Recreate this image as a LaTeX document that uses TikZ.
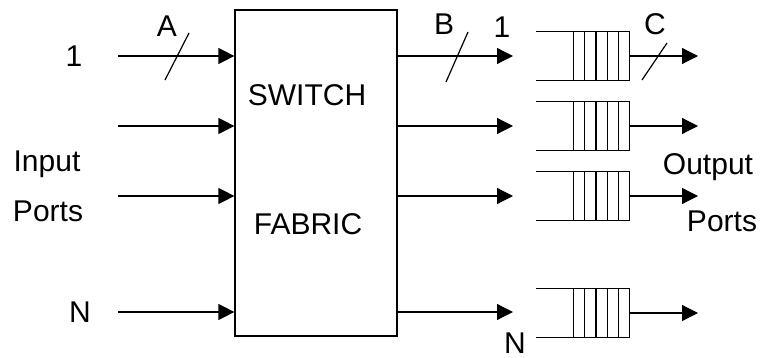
\documentclass[tikz,border=0pt]{standalone}
\usepackage{fontspec}
\setmainfont{Liberation Sans}
\usetikzlibrary{arrows.meta}
\begin{document}
\begin{tikzpicture}[x=1pt,y=-1pt,
  line width=1.2pt,
  conn/.style={-{Triangle[length=16pt,width=16pt]}},
  lbl/.style={font=\fontsize{30}{36}\selectfont, anchor=base, inner sep=0pt},
  fabricbox/.style={draw, minimum width=162pt, minimum height=326pt, inner sep=0pt},
  queuebox/.style={minimum width=92pt, minimum height=48pt, inner sep=0pt}]
\useasboundingbox (0,0) rectangle (763,358);
% switch fabric
\node[fabricbox] (fab) at (316,173) {};
\node[lbl] (sw) at (307,106) {SWITCH};
\node[lbl] (fb) at (308,235) {FABRIC};
% input side labels
\node[lbl] (in1) at (74,67) {1};
\node[lbl] (inp) at (47,172) {Input};
\node[lbl] (inpp) at (48,222) {Ports};
\node[lbl] (inN) at (80,322) {N};
% input arrows
\foreach \n/\y in {1/56,2/126,3/196,4/312}{
  \coordinate (i\n) at (118,\y);
  \draw[conn] (i\n) -- (i\n -| fab.west);
}
% slash A
\coordinate (sa1) at (165,80); \coordinate (sa2) at (189,33);
\draw (sa1) -- (sa2);
\node[lbl] (la) at (167,37) {A};
% fabric outputs
\foreach \n/\y in {1/56,2/126,3/196,4/312}{
  \coordinate (f\n) at (513,\y);
  \draw[conn] (fab.east |- f\n) -- (f\n);
}
\coordinate (sb1) at (446,82); \coordinate (sb2) at (468,32);
\draw (sb1) -- (sb2);
\node[lbl] (lb) at (444,35) {B};
\node[lbl] (o1lbl) at (502,38) {1};
\node[lbl] (oNlbl) at (515,353) {N};
% queues
\foreach \n/\y in {1/56,2/126,3/196,4/313}{
  \node[queuebox] (q\n) at (583,\y) {};
  \draw (q\n.north west) -- (q\n.north east) -- (q\n.south east) -- (q\n.south west);
  \foreach \d in {11.2,22.4,33.6,44.8,56}{
    \draw ([xshift=-\d pt]q\n.north east) -- ([xshift=-\d pt]q\n.south east);
  }
  \coordinate (o\n) at (698,\y);
  \draw[conn] (q\n.east) -- (o\n);
}
\coordinate (sc1) at (642,80); \coordinate (sc2) at (667,43);
\draw (sc1) -- (sc2);
\node[lbl] (lc) at (655,35) {C};
\node[lbl] (outl) at (708,175) {Output};
\node[lbl] (outp) at (722,232) {Ports};
\end{tikzpicture}
\end{document}
